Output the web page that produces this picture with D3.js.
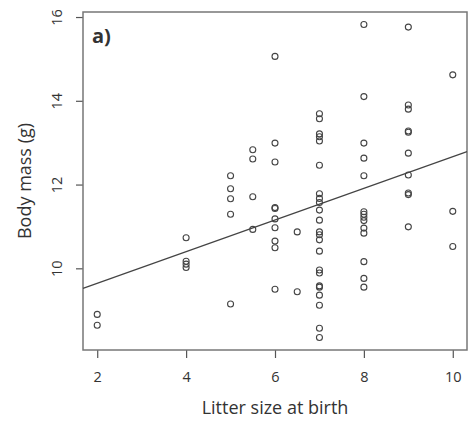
<!DOCTYPE html>
<html>
<head>
<meta charset="utf-8">
<script src="https://cdn.jsdelivr.net/npm/d3@7"></script>
<style>
  body { margin: 0; background: #fff; }
  svg { display: block; }
  text { font-family: "Open Sans", "Liberation Sans", sans-serif; fill: #333; }
</style>
</head>
<body>
<svg id="chart" width="475" height="423"></svg>
<script>
// litter size at birth (x) and body mass in g (y), one entry per animal
var litter = [
  2, 2,
  4, 4, 4, 4,
  5, 5, 5, 5, 5,
  5.5, 5.5, 5.5, 5.5,
  6, 6, 6, 6, 6, 6, 6, 6, 6, 6,
  6.5, 6.5,
  7, 7, 7, 7, 7, 7, 7, 7, 7, 7, 7, 7,
  7, 7, 7, 7, 7, 7, 7, 7, 7, 7, 7,
  8, 8, 8, 8, 8, 8, 8, 8, 8, 8, 8, 8, 8, 8,
  9, 9, 9, 9, 9, 9, 9, 9, 9, 9,
  10, 10, 10
];
var mass = [
  8.90, 8.64,
  10.73, 10.17, 10.10, 10.02,
  12.21, 11.90, 11.66, 11.29, 9.15,
  12.83, 12.61, 11.71, 10.93,
  15.06, 12.99, 12.54, 11.45, 11.43, 11.18, 10.97, 10.65, 10.49, 9.50,
  10.87, 9.44,
  13.69, 13.57, 13.21, 13.14, 13.04, 12.46, 11.78, 11.67, 11.57, 11.39, 11.15, 10.87,
  10.80, 10.68, 10.41, 9.96, 9.89, 9.58, 9.55, 9.36, 9.12, 8.57, 8.35,
  15.82, 14.10, 12.99, 12.63, 12.21, 11.35, 11.29, 11.22, 11.14, 10.96, 10.84,
  10.16, 9.76, 9.55,
  15.76, 13.90, 13.80, 13.28, 13.25, 12.75, 12.23, 11.80, 11.76, 10.99,
  14.62, 11.36, 10.52
];
var xTicks = [2, 4, 6, 8, 10];
var yTicks = [10, 12, 14, 16];
// fitted regression line: mass = intercept + slope * litter
var intercept = 8.885;
var slope = 0.378;

var box = { left: 83, right: 467, top: 12, bottom: 350 };
var svg = d3.select('#chart');

var x = d3.scaleLinear().domain([1.68, 10.32]).range([box.left, box.right]);
var y = d3.scaleLinear().domain([8.05, 16.12]).range([box.bottom, box.top]);

var xAxis = svg.append('g')
  .attr('transform', 'translate(0,' + box.bottom + ')')
  .call(d3.axisBottom(x).tickValues(xTicks).tickSize(8).tickPadding(14).tickSizeOuter(0));
xAxis.select('.domain').remove();
xAxis.selectAll('line').attr('stroke', '#555').attr('stroke-width', 1.2);
xAxis.selectAll('text').attr('font-size', 14.5).style('font-family', '"Open Sans", sans-serif').attr('fill', '#222');

var yAxis = svg.append('g')
  .attr('transform', 'translate(' + box.left + ',0)')
  .call(d3.axisLeft(y).tickValues(yTicks).tickSize(7).tickSizeOuter(0));
yAxis.select('.domain').remove();
yAxis.selectAll('line').attr('stroke', '#555').attr('stroke-width', 1.2);
yAxis.selectAll('text')
  .attr('font-size', 14.5)
  .style('font-family', '"Open Sans", sans-serif')
  .attr('fill', '#222')
  .attr('x', null).attr('dy', null)
  .attr('text-anchor', 'middle')
  .attr('transform', 'translate(-21,0) rotate(-90)');

svg.append('rect')
  .attr('x', box.left).attr('y', box.top)
  .attr('width', box.right - box.left).attr('height', box.bottom - box.top)
  .attr('fill', 'none').attr('stroke', '#777').attr('stroke-width', 1.5);

svg.append('line')
  .attr('x1', x(1.68)).attr('y1', y(intercept + slope * 1.68))
  .attr('x2', x(10.32)).attr('y2', y(intercept + slope * 10.32))
  .attr('stroke', '#444').attr('stroke-width', 1.2);

svg.selectAll('.point').data(d3.range(litter.length))
  .enter().append('circle')
  .attr('class', 'point')
  .attr('cx', function(i) { return x(litter[i]); })
  .attr('cy', function(i) { return y(mass[i]); })
  .attr('r', 3)
  .attr('fill', 'none')
  .attr('stroke', '#444')
  .attr('stroke-width', 1.1);

svg.append('text')
  .attr('x', 92).attr('y', 43)
  .attr('font-size', 20).attr('font-weight', 'bold')
  .attr('fill', '#111')
  .text('a)');

svg.append('text')
  .attr('x', (box.left + box.right) / 2).attr('y', 414)
  .attr('text-anchor', 'middle')
  .attr('font-size', 18)
  .attr('fill', '#222')
  .text('Litter size at birth');

svg.append('text')
  .attr('transform', 'translate(31,' + ((box.top + box.bottom) / 2) + ') rotate(-90)')
  .attr('text-anchor', 'middle')
  .attr('font-size', 18)
  .attr('fill', '#222')
  .text('Body mass (g)');
</script>
</body>
</html>
